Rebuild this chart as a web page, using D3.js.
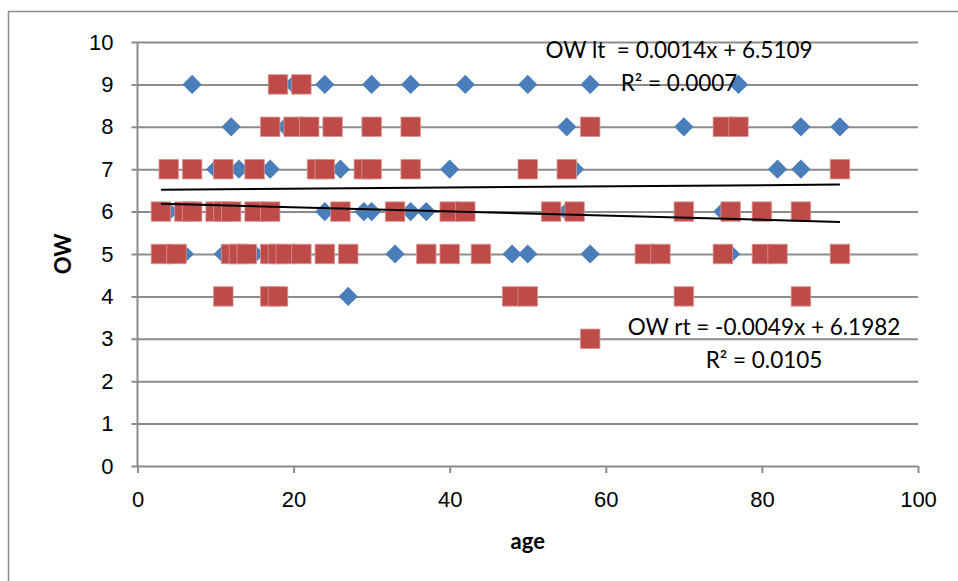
<!DOCTYPE html>
<head>
    <meta charset='utf-8'>
    <title>OW vs age</title>
    <script src='https://d3js.org/d3.v7.min.js'></script>
    <style>
        html, body {
            margin: 0px;
            padding: 0px;
            background: white;
        }
        svg {
            display: block;
            font-family: 'Lato', 'Open Sans', sans-serif;
        }
        .grid line {
            stroke: #8c8c8c;
            stroke-width: 2px;
        }
        .tick text {
            font-size: 22px;
            fill: #000;
        }
        .eq {
            font-size: 22.5px;
            fill: #000;
            white-space: pre;
        }
        .title {
            font-size: 22px;
            font-weight: bold;
        }
    </style>
</head>
<body>
    <svg id='chart' width='958' height='581'></svg>

    <script>
        // OW lt (blue diamonds), one list of ages per OW value
        var ltAges = {
            9: [7, 20, 24, 30, 35, 42, 50, 58, 77],
            8: [12, 19, 55, 70, 85, 90],
            7: [10, 13, 17, 26, 40, 56, 82, 85],
            6: [3, 4, 24, 29, 30, 35, 37, 55, 75],
            5: [6, 11, 15, 33, 48, 50, 58, 76],
            4: [27]
        };
        // OW rt (red squares)
        var rtAges = {
            9: [18, 21],
            8: [17, 20, 22, 25, 30, 35, 58, 75, 77],
            7: [4, 7, 11, 15, 23, 24, 29, 30, 35, 50, 55, 90],
            6: [3, 6, 7, 10, 11, 12, 15, 17, 26, 33, 40, 42, 53, 56, 70, 76, 80, 85],
            5: [3, 5, 12, 13, 14, 17, 18, 19, 21, 24, 27, 37, 40, 44, 65, 67, 75, 80, 82, 90],
            4: [11, 17, 18, 48, 50, 70, 85],
            3: [58]
        };
        // trend lines: [slope, intercept]
        var ltFit = [0.0014, 6.5109];
        var rtFit = [-0.0049, 6.1982];
        var ltLabel = ['OW lt  = 0.0014x + 6.5109', 'R\u00b2 = 0.0007'];
        var rtLabel = ['OW rt = -0.0049x + 6.1982', 'R\u00b2 = 0.0105'];
        var xTicks = [0, 20, 40, 60, 80, 100];
        var yTicks = [0, 1, 2, 3, 4, 5, 6, 7, 8, 9, 10];

        function toPoints(obj) {
            var pts = [];
            Object.keys(obj).forEach(function(k) {
                obj[k].forEach(function(a) { pts.push({x: a, y: +k}); });
            });
            return pts;
        }
        var ltPts = toPoints(ltAges);
        var rtPts = toPoints(rtAges);

        var svg = d3.select('#chart');

        // outer chart border
        svg.append('rect')
            .attr('x', 8.5).attr('y', 11.5)
            .attr('width', 1000).attr('height', 1000)
            .attr('fill', 'none')
            .attr('stroke', '#8c8c8c')
            .attr('stroke-width', 1.5);

        var x = d3.scaleLinear().domain([0, 100]).range([137.5, 918]);
        var y = d3.scaleLinear().domain([0, 10]).range([466, 42]);

        // horizontal gridlines + y axis
        var yAxis = svg.append('g')
            .attr('class', 'grid')
            .attr('transform', 'translate(' + x(0) + ',0)')
            .call(d3.axisLeft(y).tickValues(yTicks).tickSize(-(x(100) - x(0)) - 6).tickPadding(24))
        yAxis.select('.domain').remove();
        yAxis.selectAll('.tick line').attr('transform', 'translate(-6,0)');

        // x axis
        var xAxis = svg.append('g')
            .attr('class', 'grid')
            .attr('transform', 'translate(0,' + y(0) + ')')
            .call(d3.axisBottom(x).tickValues(xTicks).tickSize(7).tickPadding(18));
        xAxis.select('.domain').remove();

        svg.append('line')
            .attr('x1', x(0)).attr('x2', x(0))
            .attr('y1', y(10)).attr('y2', y(0))
            .attr('stroke', '#8c8c8c').attr('stroke-width', 2);

        // blue diamonds
        var diamond = d3.symbol().type(d3.symbolSquare).size(185);
        svg.append('g').selectAll('path')
            .data(ltPts)
            .enter()
            .append('path')
            .attr('d', diamond)
            .attr('transform', function(d) { return 'translate(' + x(d.x) + ',' + y(d.y) + ') rotate(45)'; })
            .attr('fill', '#4a7ebb');

        // red squares
        var square = d3.symbol().type(d3.symbolSquare).size(380);
        svg.append('g').selectAll('path')
            .data(rtPts)
            .enter()
            .append('path')
            .attr('d', square)
            .attr('transform', function(d) { return 'translate(' + x(d.x) + ',' + y(d.y) + ')'; })
            .attr('fill', '#be4b48')
            .attr('stroke', '#d99594')
            .attr('stroke-width', 0.8);

        // linear trend lines over the data range
        function trend(pts, fit) {
            var ext = d3.extent(pts, function(d) { return d.x; });
            svg.append('line')
                .attr('x1', x(ext[0])).attr('y1', y(fit[0] * ext[0] + fit[1]))
                .attr('x2', x(ext[1])).attr('y2', y(fit[0] * ext[1] + fit[1]))
                .attr('stroke', '#000')
                .attr('stroke-width', 2);
        }
        trend(ltPts, ltFit);
        trend(rtPts, rtFit);

        // equation labels
        function label(lines, cx, cy) {
            svg.append('text').attr('class', 'eq')
                .attr('x', cx).attr('y', cy)
                .attr('text-anchor', 'middle')
                .text(lines[0]);
            svg.append('text').attr('class', 'eq')
                .attr('x', cx).attr('y', cy + 33)
                .attr('text-anchor', 'middle')
                .text(lines[1]);
        }
        label(ltLabel, 679, 58);
        label(rtLabel, 764, 335);

        // axis titles
        svg.append('text').attr('class', 'title')
            .attr('x', (x(0) + x(100)) / 2).attr('y', 549)
            .attr('text-anchor', 'middle')
            .text('age');
        svg.append('text').attr('class', 'title')
            .attr('transform', 'translate(71,' + y(5) + ') rotate(-90)')
            .attr('text-anchor', 'middle')
            .text('OW');
    </script>
</body>
